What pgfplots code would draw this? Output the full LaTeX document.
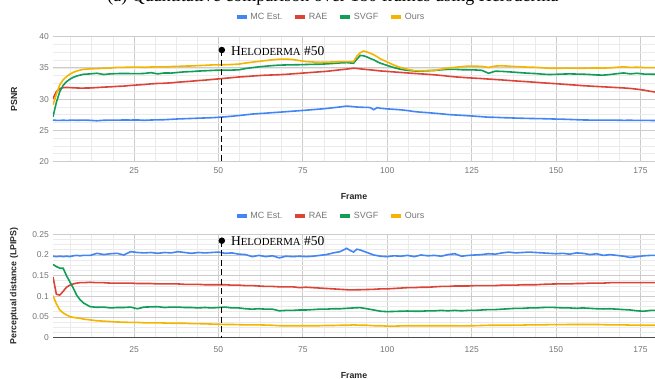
\documentclass[border=0pt]{standalone}
\usepackage{fontspec}
\setmainfont{Liberation Sans}
\newfontfamily\seriffont{Liberation Serif}
\usepackage{pgfplots}
\usepackage{pgfplotstable}
\pgfplotsset{compat=1.18}
\definecolor{cMC}{HTML}{4285F4}
\definecolor{cRAE}{HTML}{DB4437}
\definecolor{cSVGF}{HTML}{0F9D58}
\definecolor{cOurs}{HTML}{F4B400}
\definecolor{tickgray}{HTML}{757575}
\definecolor{majgrid}{HTML}{CCCCCC}
\definecolor{mingrid}{HTML}{EBEBEB}

\pgfplotstableread{
x mc rae svgf ours
1 26.65 30.10 27.20 29.10
2 26.62 31.20 29.50 30.80
3 26.60 31.70 31.20 32.30
4 26.64 31.85 32.20 33.10
5 26.61 31.88 32.80 33.60
6 26.63 31.85 33.20 34.00
7 26.66 31.83 33.50 34.30
8 26.62 31.80 33.70 34.50
9 26.64 31.78 33.85 34.65
10 26.66 31.78 33.98 34.78
12 26.62 31.80 34.05 34.85
14 26.55 31.86 34.15 34.90
16 26.63 31.93 33.95 34.95
18 26.65 31.98 34.05 34.98
20 26.64 32.05 34.10 35.10
22 26.68 32.10 34.12 35.10
24 26.66 32.20 34.10 35.12
26 26.68 32.28 34.08 35.14
28 26.62 32.35 34.12 35.10
30 26.67 32.45 34.25 35.15
32 26.70 32.52 34.05 35.18
34 26.72 32.55 34.20 35.16
36 26.78 32.62 34.18 35.22
38 26.84 32.72 34.28 35.25
40 26.88 32.80 34.38 35.30
42 26.92 32.88 34.42 35.32
44 26.96 32.98 34.50 35.38
46 27.00 33.05 34.55 35.42
48 27.04 33.15 34.60 35.48
50 27.10 33.25 34.65 35.50
52 27.18 33.35 34.66 35.52
54 27.28 33.45 34.66 35.55
56 27.38 33.55 34.70 35.62
58 27.50 33.62 34.90 35.78
60 27.62 33.70 35.05 35.92
62 27.70 33.78 35.18 36.05
64 27.76 33.84 35.28 36.18
66 27.85 33.88 35.38 36.30
68 27.92 33.92 35.45 36.40
70 28.00 33.98 35.48 36.42
72 28.08 34.06 35.50 36.35
74 28.16 34.14 35.52 36.18
76 28.24 34.22 35.55 36.02
78 28.33 34.30 35.58 35.95
80 28.42 34.38 35.60 35.90
82 28.52 34.46 35.65 35.92
84 28.64 34.58 35.72 35.96
86 28.76 34.70 35.80 36.00
88 28.90 34.82 35.85 36.02
90 28.80 34.95 35.75 36.00
91 28.75 34.92 36.40 36.90
92 28.72 34.85 37.00 37.45
93 28.70 34.80 36.95 37.70
94 28.70 34.74 36.75 37.55
95 28.65 34.70 36.50 37.35
96 28.32 34.64 36.30 37.10
97 28.65 34.58 36.00 36.80
98 28.55 34.52 35.75 36.45
100 28.45 34.45 35.40 35.95
102 28.38 34.36 35.05 35.45
104 28.30 34.28 34.78 35.05
106 28.18 34.20 34.62 34.78
108 28.02 34.12 34.52 34.58
110 27.92 34.05 34.50 34.55
112 27.85 33.98 34.55 34.58
114 27.75 33.90 34.60 34.62
116 27.66 33.80 34.70 34.80
118 27.55 33.68 34.78 34.98
120 27.48 33.58 34.78 35.10
122 27.42 33.50 34.72 35.20
124 27.35 33.42 34.70 35.30
126 27.28 33.36 34.68 35.28
128 27.20 33.30 34.62 35.25
130 27.12 33.22 34.15 35.08
132 27.10 33.15 34.48 35.30
134 27.05 33.08 34.45 35.35
136 27.02 33.00 34.38 35.28
138 26.98 32.92 34.30 35.22
140 26.95 32.85 34.22 35.18
142 26.92 32.78 34.15 35.12
144 26.90 32.70 34.10 35.10
146 26.88 32.62 34.00 35.02
148 26.85 32.55 33.95 34.96
150 26.82 32.48 33.98 34.95
152 26.80 32.40 34.02 34.96
154 26.76 32.32 34.05 34.98
156 26.72 32.25 34.02 34.96
158 26.68 32.16 34.00 34.95
160 26.66 32.10 33.95 34.98
162 26.65 32.04 33.88 35.00
164 26.64 31.98 33.85 34.98
166 26.66 31.92 33.95 35.02
168 26.64 31.86 34.08 35.10
170 26.62 31.80 34.20 35.18
172 26.63 31.72 34.05 35.08
174 26.61 31.60 34.15 35.12
176 26.60 31.45 34.02 35.06
178 26.60 31.25 34.00 35.05
180 26.58 31.10 33.98 35.04
}\psnr

\pgfplotstableread{
x mc rae svgf ours
1 0.197 0.147 0.177 0.1015
2 0.196 0.105 0.172 0.082
3 0.197 0.103 0.168 0.067
4 0.196 0.112 0.168 0.060
5 0.197 0.122 0.150 0.055
6 0.196 0.127 0.135 0.051
7 0.198 0.130 0.120 0.049
8 0.199 0.132 0.103 0.048
9 0.198 0.133 0.092 0.047
10 0.199 0.133 0.084 0.045
12 0.199 0.134 0.075 0.043
14 0.204 0.133 0.0735 0.041
16 0.201 0.133 0.074 0.040
18 0.203 0.132 0.072 0.039
20 0.204 0.132 0.073 0.038
22 0.200 0.132 0.073 0.0375
24 0.208 0.132 0.074 0.037
26 0.206 0.131 0.070 0.037
28 0.205 0.131 0.074 0.036
30 0.206 0.131 0.0745 0.036
32 0.204 0.130 0.075 0.036
34 0.206 0.130 0.073 0.0355
36 0.205 0.130 0.074 0.035
38 0.208 0.130 0.074 0.035
40 0.206 0.129 0.073 0.035
42 0.204 0.129 0.073 0.034
44 0.206 0.129 0.072 0.034
46 0.205 0.128 0.073 0.0335
48 0.206 0.128 0.072 0.033
50 0.207 0.128 0.073 0.0325
52 0.204 0.128 0.074 0.032
54 0.205 0.127 0.072 0.032
56 0.202 0.127 0.072 0.0315
58 0.201 0.126 0.070 0.031
60 0.196 0.126 0.069 0.031
62 0.199 0.125 0.070 0.031
64 0.196 0.124 0.069 0.0305
66 0.198 0.124 0.069 0.030
68 0.193 0.123 0.065 0.029
70 0.197 0.123 0.066 0.029
72 0.196 0.123 0.066 0.029
74 0.197 0.121 0.067 0.029
76 0.196 0.122 0.067 0.029
78 0.197 0.121 0.068 0.029
80 0.199 0.120 0.069 0.029
82 0.201 0.119 0.069 0.0295
84 0.205 0.118 0.070 0.0295
86 0.208 0.117 0.070 0.030
88 0.216 0.116 0.071 0.030
89 0.211 0.1155 0.0715 0.0305
90 0.207 0.1155 0.072 0.031
91 0.214 0.116 0.0725 0.0305
92 0.212 0.116 0.0726 0.030
94 0.206 0.1165 0.070 0.030
96 0.200 0.117 0.067 0.029
98 0.197 0.118 0.064 0.029
100 0.196 0.118 0.063 0.028
102 0.198 0.119 0.0635 0.028
104 0.197 0.120 0.064 0.0285
106 0.199 0.121 0.0645 0.029
108 0.196 0.121 0.064 0.029
110 0.200 0.122 0.064 0.029
112 0.198 0.122 0.065 0.029
114 0.199 0.123 0.065 0.029
116 0.197 0.124 0.066 0.029
118 0.201 0.124 0.065 0.029
120 0.203 0.125 0.066 0.029
122 0.197 0.125 0.065 0.0285
124 0.199 0.125 0.066 0.029
126 0.200 0.126 0.066 0.029
128 0.201 0.126 0.067 0.0295
130 0.203 0.126 0.068 0.030
132 0.202 0.126 0.068 0.030
134 0.205 0.127 0.069 0.030
136 0.207 0.127 0.070 0.030
138 0.205 0.127 0.071 0.0305
140 0.206 0.128 0.071 0.0305
142 0.207 0.128 0.072 0.031
144 0.206 0.128 0.072 0.031
146 0.205 0.129 0.073 0.031
148 0.204 0.1295 0.0735 0.0315
150 0.203 0.130 0.073 0.0315
152 0.204 0.130 0.072 0.0315
154 0.202 0.130 0.072 0.032
156 0.205 0.131 0.071 0.032
158 0.204 0.131 0.072 0.032
160 0.201 0.132 0.071 0.032
162 0.203 0.132 0.070 0.032
164 0.199 0.132 0.0695 0.0315
166 0.201 0.133 0.070 0.031
168 0.199 0.133 0.069 0.031
170 0.197 0.133 0.068 0.031
172 0.194 0.133 0.067 0.0305
174 0.196 0.133 0.065 0.0305
176 0.198 0.133 0.064 0.030
178 0.199 0.133 0.066 0.030
180 0.199 0.133 0.066 0.030
}\lpips

\pgfplotsset{gchart/.style={
  scale only axis, width=602bp,
  xmin=1, xmax=179.3,
  xtick={25,50,...,175},
  minor xtick={0,6.25,...,181.25},
  grid=both,
  major grid style={draw=majgrid, line width=0.9bp},
  minor grid style={draw=mingrid, line width=0.8bp},
  axis line style={draw=none},
  major tick length=0pt, minor tick length=0pt,
  tick label style={font=\fontsize{8.5bp}{10bp}\selectfont, text=tickgray, inner sep=0pt},
  /pgf/number format/assume math mode=true,
  yticklabel style={anchor=east, xshift=-4bp},
  label style={font=\fontsize{8.8bp}{10bp}\selectfont\bfseries, text=black!85},
  ylabel style={at={(axis description cs:-0.0648,0.5)}, anchor=center},
  legend columns=4,
  legend style={draw=none, fill=none, font=\fontsize{9bp}{10bp}\selectfont, text=tickgray,
    anchor=center, /tikz/every even column/.append style={column sep=9bp}},
  legend image code/.code={\draw[#1, line width=3.5bp] (0bp,0bp) -- (10bp,0bp);},
  every axis plot/.append style={line width=1.6bp, mark=none},
}}

\begin{document}
\begin{tikzpicture}
\useasboundingbox (0bp,0bp) rectangle (655bp,379bp);
\node[anchor=base, font=\seriffont\fontsize{18bp}{20bp}\selectfont, inner sep=0pt] at (333bp,377bp)
  {(a) Quantitative comparison over 180 frames using Heloderma};

% ---- PSNR ----
\begin{axis}[gchart, at={(53bp,217.3bp)}, anchor=south west, height=125bp,
  ymin=20, ymax=40, ytick={20,25,...,40}, minor ytick={20,21.25,...,40},
  xticklabel style={anchor=north, yshift=-6bp},
  ylabel={PSNR},
  xlabel={Frame}, xlabel style={at={(axis description cs:0.5,-0.282)}, anchor=center},
  legend style={at={(0.461,1)}, yshift=19.7bp},
]
\addplot[cMC] table[x=x, y=mc] {\psnr};
\addplot[cRAE] table[x=x, y=rae] {\psnr};
\addplot[cSVGF] table[x=x, y=svgf] {\psnr};
\addplot[cOurs] table[x=x, y=ours] {\psnr};
\legend{MC Est., RAE, SVGF, Ours}
\addplot[forget plot, black, line width=1.3bp, dash pattern=on 6bp off 3.5bp] coordinates {(51,37.87) (51,20)};
\addplot[forget plot, only marks, mark=*, mark size=2.4bp, black] coordinates {(51,37.87)};
\node[anchor=base west, inner sep=0pt, xshift=9bp, yshift=-5bp, font=\seriffont\fontsize{13.5bp}{15bp}\selectfont]
  at (axis cs:51,37.87) {H{\fontsize{10.8bp}{12bp}\selectfont ELODERMA} \#50};
\end{axis}

% ---- LPIPS ----
\begin{axis}[gchart, at={(53bp,41.3bp)}, anchor=south west, height=103.4bp,
  ymin=0, ymax=0.25, ytick={0,0.05,...,0.25}, minor ytick={0,0.0125,...,0.25},
  yticklabels={0,0.05,0.1,0.15,0.2,0.25},
  axis x line*=bottom, x axis line style={draw=black!70, line width=1bp},
  xticklabel style={anchor=north, yshift=-9bp},
  ylabel={Perceptual distance (LPIPS)},
  xlabel={Frame}, xlabel style={at={(axis description cs:0.5,-0.361)}, anchor=center},
  legend style={at={(0.461,1)}, yshift=18.3bp},
]
\addplot[cMC] table[x=x, y=mc] {\lpips};
\addplot[cRAE] table[x=x, y=rae] {\lpips};
\addplot[cSVGF] table[x=x, y=svgf] {\lpips};
\addplot[cOurs] table[x=x, y=ours] {\lpips};
\legend{MC Est., RAE, SVGF, Ours}
\addplot[forget plot, black, line width=1.3bp, dash pattern=on 6bp off 3.5bp] coordinates {(51,0.2345) (51,0)};
\addplot[forget plot, only marks, mark=*, mark size=2.4bp, black] coordinates {(51,0.2345)};
\node[anchor=base west, inner sep=0pt, xshift=9bp, yshift=-4.3bp, font=\seriffont\fontsize{13.5bp}{15bp}\selectfont]
  at (axis cs:51,0.2345) {H{\fontsize{10.8bp}{12bp}\selectfont ELODERMA} \#50};
\end{axis}
\end{tikzpicture}
\end{document}
